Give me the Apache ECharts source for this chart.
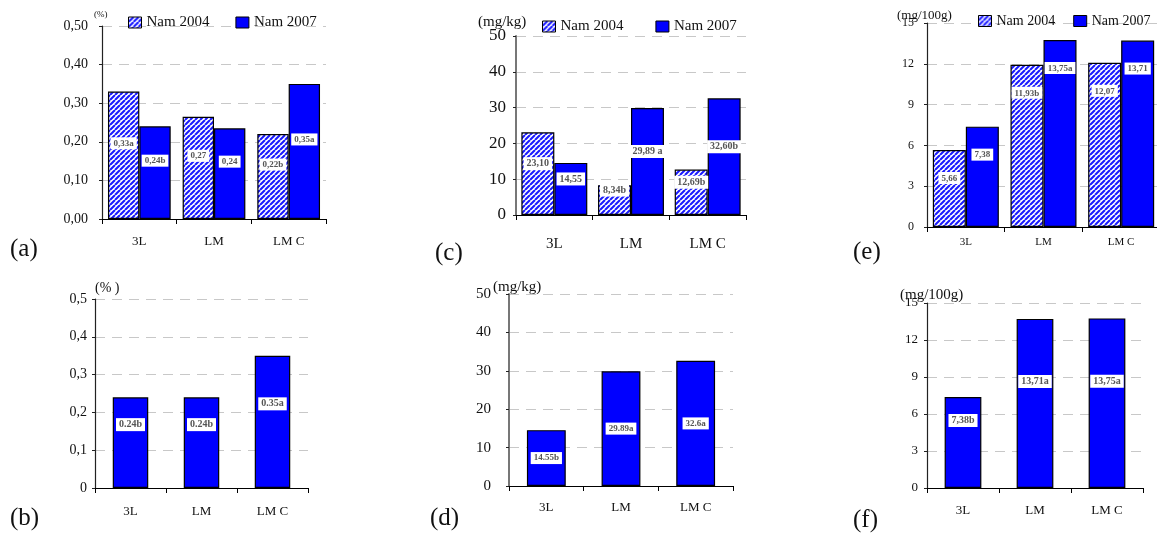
<!DOCTYPE html>
<html>
<head>
<meta charset="utf-8">
<script src="https://cdn.jsdelivr.net/npm/echarts@6/dist/echarts.min.js"></script>
<style>
  html, body { margin: 0; background: #fff; }
  #chart { width: 1157px; height: 538px; }
</style>
</head>
<body>
<div id="chart"></div>
<script>
const categories = ["3L", "LM", "LM C"];
const seriesNames = ["Nam 2004", "Nam 2007"];

const ticksPct2 = ["0,00", "0,10", "0,20", "0,30", "0,40", "0,50"];
const ticksPct1 = ["0", "0,1", "0,2", "0,3", "0,4", "0,5"];
const ticks50 = ["0", "10", "20", "30", "40", "50"];
const ticks15 = ["0", "3", "6", "9", "12", "15"];

// (a) %
const a2004 = [0.33, 0.265, 0.22];
const a2004Labels = ["0,33a", "0,27", "0,22b"];
const a2007 = [0.24, 0.235, 0.35];
const a2007Labels = ["0,24b", "0,24", "0,35a"];
// (c) mg/kg
const c2004 = [23.1, 8.34, 12.69];
const c2004Labels = ["23,10", "8,34b", "12,69b"];
const c2007 = [14.55, 29.89, 32.6];
const c2007Labels = ["14,55", "29,89 a", "32,60b"];
// (e) mg/100g
const e2004 = [5.66, 11.93, 12.07];
const e2004Labels = ["5,66", "11,93b", "12,07"];
const e2007 = [7.38, 13.75, 13.71];
const e2007Labels = ["7,38", "13,75a", "13,71"];
// (b) %
const b2007 = [0.24, 0.24, 0.35];
const b2007Labels = ["0.24b", "0.24b", "0.35a"];
// (d) mg/kg
const d2007 = [14.55, 29.89, 32.6];
const d2007Labels = ["14.55b", "29.89a", "32.6a"];
// (f) mg/100g
const f2007 = [7.38, 13.71, 13.75];
const f2007Labels = ["7,38b", "13,71a", "13,75a"];

const SERIF = '"Liberation Serif", "DejaVu Serif", serif';

function hatchPattern() {
  const c = document.createElement("canvas");
  c.width = 5;
  c.height = 5;
  const ctx = c.getContext("2d");
  ctx.fillStyle = "#fff";
  ctx.fillRect(0, 0, 5, 5);
  ctx.strokeStyle = "#1a1aff";
  ctx.lineWidth = 2.1;
  ctx.beginPath();
  [-5, 0, 5].forEach(function (k) {
    ctx.moveTo(k, 5);
    ctx.lineTo(k + 5, 0);
  });
  ctx.stroke();
  return { image: c, repeat: "repeat" };
}
const hatch = hatchPattern();

// layout of the six panels
const panels = [
  { grid: { left: 102, top: 26, right: 831, bottom: 319 }, max: 0.5, interval: 0.1, ticks: ticksPct2,
    yFont: 14, yMargin: 14, xFont: 13, xMargin: 16, gap: "16%", axisColor: "#222" },
  { grid: { left: 516, top: 36, right: 411, bottom: 323 }, max: 50, interval: 10, ticks: ticks50,
    yFont: 17, yMargin: 10, xFont: 15, xMargin: 22, gap: "14%", axisColor: "#777", axisWidth: 2 },
  { grid: { left: 927, top: 23, right: -3, bottom: 311 }, max: 15, interval: 3, ticks: ticks15,
    yFont: 12, yMargin: 13, xFont: 11, xMargin: 10, gap: "15%", axisColor: "#222" },
  { grid: { left: 95, top: 299, right: 849, bottom: 50 }, max: 0.5, interval: 0.1, ticks: ticksPct1,
    yFont: 14, yMargin: 8, xFont: 13, xMargin: 17, gap: "50%", axisColor: "#222" },
  { grid: { left: 509, top: 294, right: 424, bottom: 52 }, max: 50, interval: 10, ticks: ticks50,
    yFont: 15, yMargin: 18, xFont: 13, xMargin: 15, gap: "48%", axisColor: "#777", axisWidth: 2 },
  { grid: { left: 927, top: 303, right: 14, bottom: 50 }, max: 15, interval: 3, ticks: ticks15,
    yFont: 13, yMargin: 9, xFont: 13, xMargin: 16, gap: "49%", axisColor: "#222" }
];

const grids = panels.map(function (p) {
  return Object.assign({ outerBoundsMode: "none", containLabel: false }, p.grid);
});

const xAxes = panels.map(function (p, i) {
  return {
    type: "category",
    gridIndex: i,
    data: categories,
    boundaryGap: true,
    axisLine: { lineStyle: { color: "#000", width: 1.2 } },
    axisTick: { show: true, length: 5, lineStyle: { color: "#000" } },
    axisLabel: { fontFamily: SERIF, fontSize: p.xFont, color: "#111", margin: p.xMargin }
  };
});

const yAxes = panels.map(function (p, i) {
  return {
    type: "value",
    gridIndex: i,
    min: 0,
    max: p.max,
    interval: p.interval,
    axisLine: { show: true, lineStyle: { color: p.axisColor, width: p.axisWidth || 1.2 } },
    axisTick: { show: true, length: 3, lineStyle: { color: "#222" } },
    axisLabel: {
      fontFamily: SERIF, fontSize: p.yFont, color: "#111", margin: p.yMargin,
      formatter: function (v, idx) { return p.ticks[idx]; }
    },
    splitLine: { show: true, lineStyle: { color: "#c8c8c8", type: [10, 7], width: 1 } }
  };
});

function barSeries(name, data, labels, idx, fill, lab) {
  return {
    name: name,
    type: "bar",
    xAxisIndex: idx,
    yAxisIndex: idx,
    data: data,
    barGap: "0%",
    barCategoryGap: panels[idx].gap,
    itemStyle: { color: fill, borderColor: "#000", borderWidth: 1.2 },
    label: {
      show: true,
      position: lab.position,
      offset: lab.offset,
      formatter: function (p) { return labels[p.dataIndex]; },
      fontFamily: SERIF,
      fontSize: lab.size,
      fontWeight: "bold",
      color: "#555",
      backgroundColor: "#fff",
      padding: [2, 3, 1, 3]
    }
  };
}

const series = [
  barSeries(seriesNames[0], a2004, a2004Labels, 0, hatch, { position: "inside", offset: [0, -12], size: 9 }),
  barSeries(seriesNames[1], a2007, a2007Labels, 0, "#0000ff", { position: "inside", offset: [0, -12], size: 9 }),
  barSeries(seriesNames[0], c2004, c2004Labels, 1, hatch, { position: "inside", offset: [0, -10], size: 10 }),
  barSeries(seriesNames[1], c2007, c2007Labels, 1, "#0000ff", { position: "inside", offset: [0, -10], size: 10 }),
  barSeries(seriesNames[0], e2004, e2004Labels, 2, hatch, { position: "insideTop", offset: [0, 17], size: 9 }),
  barSeries(seriesNames[1], e2007, e2007Labels, 2, "#0000ff", { position: "insideTop", offset: [0, 17], size: 9 }),
  barSeries(seriesNames[1], b2007, b2007Labels, 3, "#0000ff", { position: "inside", offset: [0, -18], size: 10 }),
  barSeries(seriesNames[1], d2007, d2007Labels, 4, "#0000ff", { position: "inside", offset: [0, 0], size: 9 }),
  barSeries(seriesNames[1], f2007, f2007Labels, 5, "#0000ff", { position: "inside", offset: [0, -22], size: 10 })
];

function legendAt(left, top, font, gap) {
  return {
    data: seriesNames,
    left: left,
    top: top,
    icon: "rect",
    itemWidth: 13,
    itemHeight: 11,
    itemGap: gap,
    itemStyle: { borderColor: "#000", borderWidth: 1 },
    textStyle: { fontFamily: SERIF, fontSize: font, color: "#111" }
  };
}

function txt(x, y, text, size) {
  return {
    type: "text",
    x: x,
    y: y,
    style: { text: text, font: size + "px " + SERIF, fill: "#111", verticalAlign: "middle" }
  };
}

const option = {
  backgroundColor: "#fff",
  animation: false,
  legend: [
    legendAt(123, 10, 15, 26),
    legendAt(537, 14, 15, 32),
    legendAt(973, 9, 14, 18)
  ],
  grid: grids,
  xAxis: xAxes,
  yAxis: yAxes,
  series: series,
  graphic: [
    txt(94, 15, "(%)", 9),
    txt(478, 22, "(mg/kg)", 15),
    txt(897, 16, "(mg/100g)", 13),
    txt(95, 288, "(% )", 14),
    txt(493, 287, "(mg/kg)", 15),
    txt(900, 295, "(mg/100g)", 15),
    txt(10, 249, "(a)", 25),
    txt(435, 253, "(c)", 25),
    txt(853, 252, "(e)", 25),
    txt(10, 518, "(b)", 25),
    txt(430, 518, "(d)", 25),
    txt(853, 520, "(f)", 25)
  ]
};

const myChart = echarts.init(document.getElementById("chart"));
myChart.setOption(option);
</script>
</body>
</html>
